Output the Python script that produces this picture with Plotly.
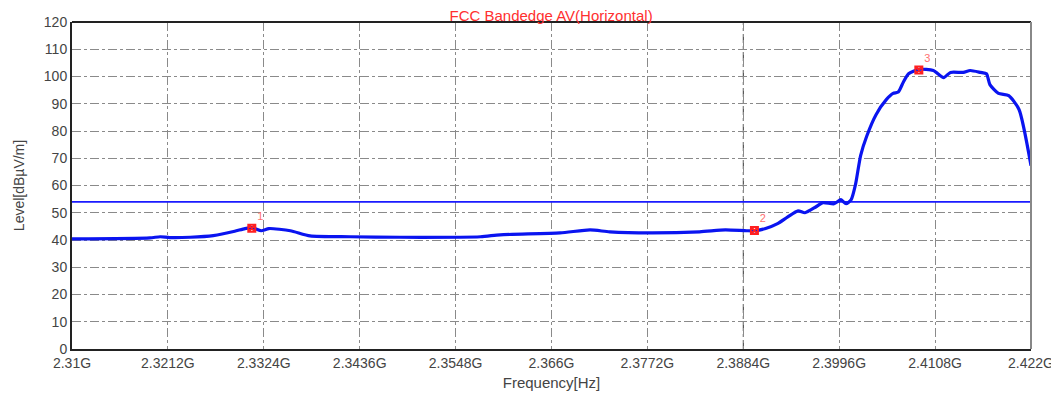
import plotly.graph_objects as go

# Trace (frequency in GHz, level in dBuV/m)
freq = [2.3100, 2.3191, 2.3203, 2.3214, 2.3238, 2.3265, 2.3290, 2.3302, 2.3311, 2.3321,
        2.3330, 2.3355, 2.3378, 2.3425, 2.3483, 2.3577, 2.3600, 2.3670, 2.3705, 2.3728,
        2.3775, 2.3833, 2.3863, 2.3888, 2.3898, 2.3910, 2.3924, 2.3936, 2.3948, 2.3956,
        2.3969, 2.3977, 2.3990, 2.3998, 2.4004, 2.4010, 2.4015, 2.4021, 2.4028, 2.4039,
        2.4051, 2.4059, 2.4065, 2.4071, 2.4077, 2.4089, 2.4106, 2.4118, 2.4126, 2.4141,
        2.4149, 2.4161, 2.4168, 2.4172, 2.4182, 2.4194, 2.4206, 2.4220]
level = [40.4, 40.8, 41.2, 40.9, 41.0, 41.6, 43.2, 44.2, 44.5, 43.4,
         44.2, 43.4, 41.5, 41.2, 41.0, 41.2, 41.9, 42.6, 43.7, 43.0,
         42.6, 43.0, 43.7, 43.4, 43.4, 44.2, 46.0, 48.5, 50.7, 50.0,
         52.2, 53.7, 53.3, 54.8, 53.3, 54.8, 60.3, 71.0, 78.0, 86.0,
         91.5, 93.8, 94.3, 98.0, 101.0, 102.6, 102.2, 99.6, 101.5, 101.5,
         102.2, 101.5, 101.0, 97.0, 93.8, 93.0, 87.9, 67.3]

limit_freq = [2.310, 2.422]
limit_level = [54.0, 54.0]

marker_freq = [2.3310, 2.3897, 2.4089]
marker_level = [44.3, 43.5, 102.4]
marker_text = ["1", "2", "3"]

x_ticks = [2.31, 2.3212, 2.3324, 2.3436, 2.3548, 2.366, 2.3772, 2.3884, 2.3996, 2.4108, 2.422]
x_tick_text = ["2.31G", "2.3212G", "2.3324G", "2.3436G", "2.3548G", "2.366G",
               "2.3772G", "2.3884G", "2.3996G", "2.4108G", "2.422G"]
y_ticks = list(range(0, 121, 10))

fig = go.Figure()
fig.add_trace(go.Scatter(x=limit_freq, y=limit_level, mode="lines",
                         line=dict(color="#1a1aff", width=1.6), hoverinfo="skip"))
fig.add_trace(go.Scatter(x=freq, y=level, mode="lines",
                         line=dict(color="#0a14f0", width=3.2, shape="spline", smoothing=0.6)))
fig.add_trace(go.Scatter(x=marker_freq, y=marker_level, mode="markers+text",
                         marker=dict(symbol="square-x-open", color="#ff2020", size=7,
                                     line=dict(width=2, color="#ff2020")),
                         text=marker_text, textposition="top right",
                         textfont=dict(color="#ff7070", size=11, family="Liberation Sans")))

grid_dark = [20, 60, 100]
for yv in grid_dark:
    fig.add_shape(type="line", xref="x", yref="y", x0=2.31, x1=2.422, y0=yv, y1=yv,
                  line=dict(color="#333333", width=1, dash="dashdot"), layer="below")
fig.add_shape(type="line", xref="x", yref="y", x0=2.3884, x1=2.3884, y0=0, y1=120,
              line=dict(color="#333333", width=1, dash="dashdot"), layer="below")

# The page body has an 8px margin, so the figure is sized to fit the window inside it
fig.update_layout(
    width=1051, height=387,
    margin=dict(l=64, r=28, t=14, b=46, autoexpand=False),
    paper_bgcolor="white", plot_bgcolor="white",
    showlegend=False,
    font=dict(family="Liberation Sans, Arial", size=14, color="#444444"),
    title=dict(text="FCC Bandedge AV(Horizontal)", x=0.5167, xanchor="center",
               y=0.979, yanchor="middle",
               font=dict(color="#ff3030", size=15, family="Liberation Sans")),
)
fig.update_xaxes(range=[2.31, 2.422], tickmode="array", tickvals=x_ticks, ticktext=x_tick_text,
                 showgrid=True, gridcolor="#8a8a8a", griddash="dashdot", gridwidth=1,
                 showline=True, linecolor="#222222", linewidth=2, mirror=False,
                 ticks="", zeroline=False, automargin=False, ticklabeloverflow="allow",
                 title=dict(text="Frequency[Hz]", font=dict(size=15, color="#444444"), standoff=8),
                 tickfont=dict(size=14, color="#444444"))
fig.update_yaxes(range=[0, 120], tickmode="array", tickvals=y_ticks,
                 showgrid=True, gridcolor="#8a8a8a", griddash="dashdot", gridwidth=1,
                 showline=True, linecolor="#222222", linewidth=2, mirror=False,
                 ticks="", zeroline=False, automargin=False,
                 title=dict(text="Level[dBµV/m]", font=dict(size=14, color="#444444"), standoff=16),
                 tickfont=dict(size=14, color="#444444"))
# top and right frame
fig.add_shape(type="line", xref="paper", yref="paper", x0=0, x1=1, y0=1, y1=1,
              line=dict(color="#222222", width=2))
fig.add_shape(type="line", xref="paper", yref="paper", x0=1, x1=1, y0=0, y1=1,
              line=dict(color="#888888", width=2))

fig.write_html("out.html")
